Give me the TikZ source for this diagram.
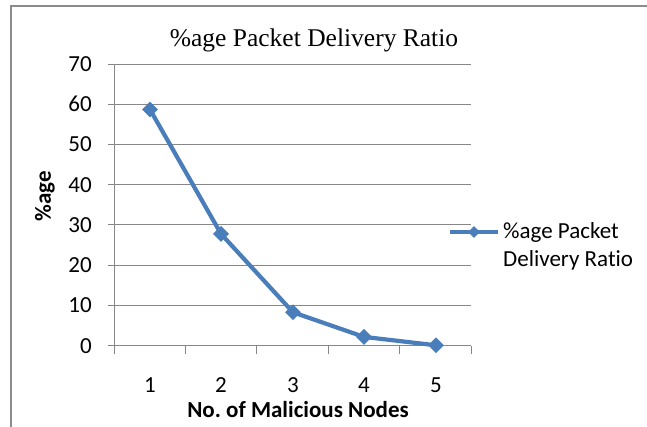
\documentclass[tikz,border=0pt]{standalone}
\usepackage{fontspec}
\setmainfont[Ligatures=NoCommon]{Carlito}
\newfontfamily\titlefont{Liberation Serif}
\usetikzlibrary{shapes.geometric}
\definecolor{serblue}{HTML}{4A7EBB}
\definecolor{gridgray}{HTML}{878787}
\definecolor{framegray}{HTML}{8C8C8C}
\frenchspacing
\begin{document}
\begin{tikzpicture}[x=1pt,y=-1pt,
  grid/.style={draw=gridgray,line width=1pt},
  series/.style={draw=serblue,line width=4.2pt,line join=round,line cap=round},
  marker/.style={diamond,fill=serblue,inner sep=0pt,minimum width=16pt,minimum height=16pt},
  lbl/.style={font=\fontsize{23}{26}\selectfont,inner sep=0pt}]
\useasboundingbox (0,0) rectangle (647,427);
\fill[white] (0,0) rectangle (647,427);
\draw[framegray,line width=2pt] (11,427) -- (11,6) -- (647,6);
% grid and y labels
\foreach \k/\v in {0/0,1/10,2/20,3/30,4/40,5/50,6/60,7/70} {
  \draw[grid] (108,{345.7-40.24*\k}) -- (471,{345.7-40.24*\k});
  \node[lbl,anchor=east] (y\k) at (92,{345.7-40.24*\k}) {\v};
}
% axes
\draw[grid] (114,64) -- (114,354);
\foreach \x in {185.4,256.8,328.2,399.6,471} {
  \draw[grid] (\x,345.7) -- (\x,354);
}
% x labels
\foreach \i/\x in {1/150,2/221,3/293,4/364,5/436} {
  \node[lbl] (x\i) at (\x,385) {\i};
}
\node[lbl,font=\fontsize{23}{26}\selectfont\bfseries] (xl) at (298,410) {No.\ of Malicious Nodes};
\node[lbl,font=\fontsize{23}{26}\selectfont\bfseries,rotate=90] (yl) at (45,196) {\%age};
% title
\node[inner sep=0pt,anchor=base,font=\titlefont\fontsize{25.5}{28}\selectfont] (title) at (314,47) {\%age Packet Delivery Ratio};
% series
\coordinate (c1) at (150,109.5);
\coordinate (c2) at (221,233.9);
\coordinate (c3) at (293,312.3);
\coordinate (c4) at (364,336.9);
\coordinate (c5) at (436,345.3);
\draw[series] (c1) -- (c2) -- (c3) -- (c4) -- (c5);
\foreach \i in {1,...,5} { \node[marker] (m\i) at (c\i) {}; }
% legend
\coordinate (la) at (450,232);
\coordinate (lb) at (498,232);
\draw[series,line width=3.4pt,line cap=butt] (la) -- (lb);
\node[marker,minimum width=12pt,minimum height=12pt] (lm) at (474,232) {};
\node[lbl,anchor=base west] (lt1) at (503,239) {\%age Packet};
\node[lbl,anchor=base west] (lt2) at (503,267) {Delivery Ratio};
\end{tikzpicture}
\end{document}
